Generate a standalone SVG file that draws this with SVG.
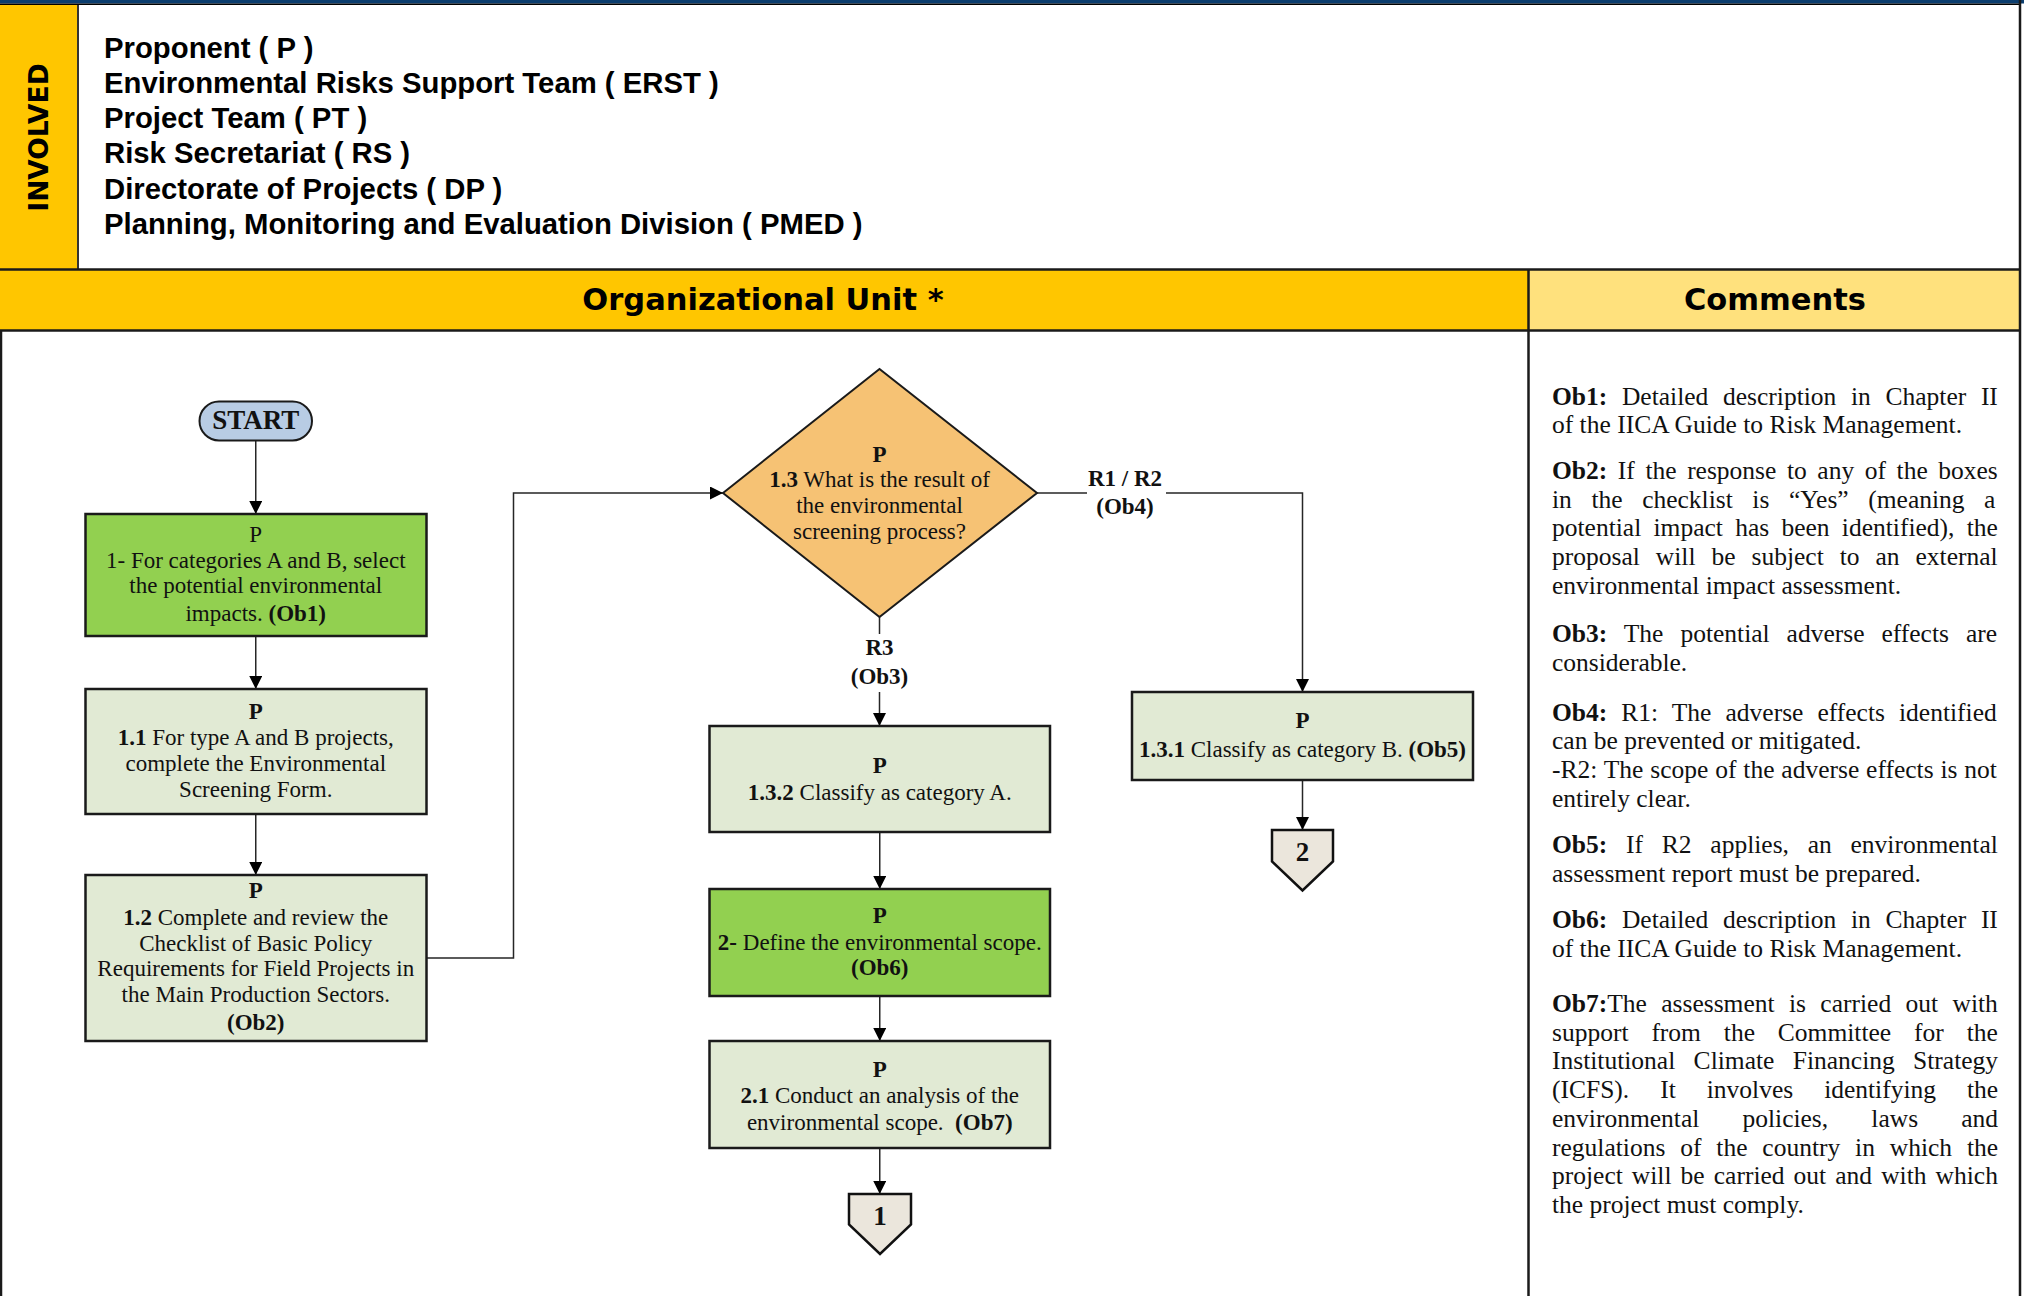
<svg xmlns="http://www.w3.org/2000/svg" width="2024" height="1296" viewBox="0 0 2024 1296">
  <style>
    .frame { stroke: #1a1a1a; stroke-width: 2.5; fill: none; }
    .hdr { font-family: "Liberation Sans", Arial, sans-serif; font-weight: bold; font-size: 29.3px; fill: #000; }
    .band { font-family: "DejaVu Sans", sans-serif; font-weight: bold; font-size: 30.5px; fill: #000; text-anchor: middle; }
    .t { font-family: "Liberation Serif", "Times New Roman", serif; font-size: 23px; fill: #111; text-anchor: middle; }
    .b { font-weight: bold; }
    .lbl { font-family: "Liberation Serif", "Times New Roman", serif; font-size: 23px; font-weight: bold; fill: #111; text-anchor: middle; }
    .num { font-family: "Liberation Serif", "Times New Roman", serif; font-size: 27px; font-weight: bold; fill: #111; text-anchor: middle; }
    .c { font-family: "Liberation Serif", "Times New Roman", serif; font-size: 25.5px; fill: #111; }
    .box { stroke: #1a1a1a; stroke-width: 2.5; }
    .act { fill: #92D050; }
    .task { fill: #E1EAD4; }
    .dec { fill: #F6C274; stroke: #1a1a1a; stroke-width: 2; }
    .off { fill: #EBE6DC; stroke: #111; stroke-width: 2.5; stroke-linejoin: miter; }
    .conn { stroke: #262626; stroke-width: 1.5; fill: none; }
  </style>
  <defs>
    <marker id="arr" viewBox="0 0 13 13" refX="13" refY="6.5" markerWidth="13" markerHeight="13" markerUnits="userSpaceOnUse" orient="auto">
      <path d="M0,0 L13,6.5 L0,13 z" fill="#000"/>
    </marker>
  </defs>

  <rect x="0" y="0" width="2024" height="1296" fill="#fff"/>

  <!-- page frame: header with participants -->
  <g id="header">
    <rect x="0" y="0" width="2024" height="3.5" fill="#0B3D6E"/>
    <line x1="0" y1="4.2" x2="2021" y2="4.2" stroke="#000" stroke-width="1.5"/>
    <rect x="0" y="5" width="78" height="264" fill="#FFC600"/>
    <line x1="78" y1="5" x2="78" y2="269" stroke="#333" stroke-width="2"/>
    <text transform="rotate(-90)" x="-137.5" y="48" font-family="DejaVu Sans, sans-serif" font-weight="bold" font-size="26.5" text-anchor="middle" fill="#000">INVOLVED</text>
    <text class="hdr" x="104" y="58">Proponent ( P )</text>
    <text class="hdr" x="104" y="93">Environmental Risks Support Team ( ERST )</text>
    <text class="hdr" x="104" y="128">Project Team ( PT )</text>
    <text class="hdr" x="104" y="163">Risk Secretariat ( RS )</text>
    <text class="hdr" x="104" y="199">Directorate of Projects ( DP )</text>
    <text class="hdr" x="104" y="234">Planning, Monitoring and Evaluation Division ( PMED )</text>
  </g>

  <!-- column headings -->
  <g id="bands">
    <rect x="0" y="270" width="1528" height="60" fill="#FFC600"/>
    <rect x="1529" y="270" width="491" height="60" fill="#FFE17D"/>
    <text class="band" x="763" y="310">Organizational Unit *</text>
    <text class="band" x="1775" y="310">Comments</text>
  </g>

  <!-- frame lines -->
  <g id="frame" class="frame">
    <line x1="0" y1="269.5" x2="2021" y2="269.5"/>
    <line x1="0" y1="330.5" x2="2021" y2="330.5"/>
    <line x1="1528.5" y1="270" x2="1528.5" y2="1296"/>
    <line x1="2020" y1="0" x2="2020" y2="1296"/>
    <line x1="1" y1="330" x2="1" y2="1296"/>
  </g>

  <!-- connectors -->
  <g id="connectors">
    <path class="conn" d="M255.75,441 V514" marker-end="url(#arr)"/>
    <path class="conn" d="M255.75,636 V689" marker-end="url(#arr)"/>
    <path class="conn" d="M255.75,814 V875" marker-end="url(#arr)"/>
    <path class="conn" d="M426.5,958 H513.5 V493 H723" marker-end="url(#arr)"/>
    <path class="conn" d="M879.5,617 V634"/>
    <path class="conn" d="M879.5,692 V726" marker-end="url(#arr)"/>
    <path class="conn" d="M1037,493 H1087"/>
    <path class="conn" d="M1166,493 H1302.5 V692" marker-end="url(#arr)"/>
    <path class="conn" d="M1302.5,780 V830" marker-end="url(#arr)"/>
    <path class="conn" d="M879.75,832 V889" marker-end="url(#arr)"/>
    <path class="conn" d="M879.75,996 V1041" marker-end="url(#arr)"/>
    <path class="conn" d="M879.75,1148 V1194" marker-end="url(#arr)"/>
    <text class="lbl" x="1125" y="486">R1 / R2</text>
    <text class="lbl" x="1125" y="514">(Ob4)</text>
    <text class="lbl" x="879.5" y="655">R3</text>
    <text class="lbl" x="879.5" y="684">(Ob3)</text>
  </g>

  <!-- flow nodes -->
  <g id="start">
    <rect x="199.5" y="401.5" width="112.5" height="39" rx="19.5" fill="#B8CCE4" stroke="#1a1a1a" stroke-width="2"/>
    <text x="255.75" y="429" font-family="Liberation Serif, serif" font-weight="bold" font-size="27" text-anchor="middle" fill="#111">START</text>
  </g>

  <g id="step1">
    <rect class="box act" x="85.5" y="514" width="341" height="122"/>
    <text class="t" x="255.75" y="541.7">P</text>
    <text class="t" x="255.75" y="567.7">1- For categories A and B, select</text>
    <text class="t" x="255.75" y="593.3">the potential environmental</text>
    <text class="t" x="255.75" y="620.7">impacts. <tspan class="b">(Ob1)</tspan></text>
  </g>

  <g id="step1_1">
    <rect class="box task" x="85.5" y="689" width="341" height="125"/>
    <text class="t b" x="255.75" y="719.3">P</text>
    <text class="t" x="255.75" y="745"><tspan class="b">1.1</tspan> For type A and B projects,</text>
    <text class="t" x="255.75" y="770.7">complete the Environmental</text>
    <text class="t" x="255.75" y="796.7">Screening Form.</text>
  </g>

  <g id="step1_2">
    <rect class="box task" x="85.5" y="875" width="341" height="166"/>
    <text class="t b" x="255.75" y="898">P</text>
    <text class="t" x="255.75" y="925"><tspan class="b">1.2</tspan> Complete and review the</text>
    <text class="t" x="255.75" y="950.5">Checklist of Basic Policy</text>
    <text class="t" x="255.75" y="976">Requirements for Field Projects in</text>
    <text class="t" x="255.75" y="1001.7">the Main Production Sectors.</text>
    <text class="t b" x="255.75" y="1030">(Ob2)</text>
  </g>

  <g id="decision1_3">
    <polygon class="dec" points="723,493 879.5,369 1037,493 879.5,617"/>
    <text class="t b" x="879.5" y="461.7">P</text>
    <text class="t" x="879.5" y="486.7"><tspan class="b">1.3</tspan> What is the result of</text>
    <text class="t" x="879.5" y="512.7">the environmental</text>
    <text class="t" x="879.5" y="539.3">screening process?</text>
  </g>

  <g id="step1_3_2">
    <rect class="box task" x="709.5" y="726" width="340.5" height="106"/>
    <text class="t b" x="879.75" y="773.3">P</text>
    <text class="t" x="879.75" y="800"><tspan class="b">1.3.2</tspan> Classify as category A.</text>
  </g>

  <g id="step1_3_1">
    <rect class="box task" x="1132" y="692" width="341" height="88"/>
    <text class="t b" x="1302.5" y="728.3">P</text>
    <text class="t" x="1302.5" y="756.7"><tspan class="b">1.3.1</tspan> Classify as category B. <tspan class="b">(Ob5)</tspan></text>
  </g>

  <g id="offpage2">
    <polygon class="off" points="1272,830 1333,830 1333,861.5 1302.5,890.5 1272,861.5"/>
    <text class="num" x="1302.5" y="861">2</text>
  </g>

  <g id="step2">
    <rect class="box act" x="709.5" y="889" width="340.5" height="107"/>
    <text class="t b" x="879.75" y="923.3">P</text>
    <text class="t" x="879.75" y="950"><tspan class="b">2-</tspan> Define the environmental scope.</text>
    <text class="t b" x="879.75" y="975">(Ob6)</text>
  </g>

  <g id="step2_1">
    <rect class="box task" x="709.5" y="1041" width="340.5" height="107"/>
    <text class="t b" x="879.75" y="1076.7">P</text>
    <text class="t" x="879.75" y="1103.3"><tspan class="b">2.1</tspan> Conduct an analysis of the</text>
    <text class="t" x="879.75" y="1130" xml:space="preserve">environmental scope.  <tspan class="b">(Ob7)</tspan></text>
  </g>

  <g id="offpage1">
    <polygon class="off" points="849,1194 911,1194 911,1224.5 880,1254 849,1224.5"/>
    <text class="num" x="880" y="1225">1</text>
  </g>

  <!-- comments column, justified by per-line word spacing -->
  <g id="comments" class="c">
    <text x="1552" y="404.6" word-spacing="8.3"><tspan class="b">Ob1:</tspan> Detailed description in Chapter II</text>
    <text x="1552" y="433">of the IICA Guide to Risk Management.</text>

    <text x="1552" y="479" word-spacing="4.2"><tspan class="b">Ob2:</tspan> If the response to any of the boxes</text>
    <text x="1552" y="507.7" word-spacing="13.2">in the checklist is “Yes” (meaning a</text>
    <text x="1552" y="536.4" word-spacing="5.9">potential impact has been identified), the</text>
    <text x="1552" y="565.1" word-spacing="9.6">proposal will be subject to an external</text>
    <text x="1552" y="593.8">environmental impact assessment.</text>

    <text x="1552" y="642" word-spacing="10.6"><tspan class="b">Ob3:</tspan> The potential adverse effects are</text>
    <text x="1552" y="670.7">considerable.</text>

    <text x="1552" y="720.5" word-spacing="7.7"><tspan class="b">Ob4:</tspan> R1: The adverse effects identified</text>
    <text x="1552" y="749.2">can be prevented or mitigated.</text>
    <text x="1552" y="777.9" word-spacing="0.5">-R2: The scope of the adverse effects is not</text>
    <text x="1552" y="806.6">entirely clear.</text>

    <text x="1552" y="853.3" word-spacing="12.4"><tspan class="b">Ob5:</tspan> If R2 applies, an environmental</text>
    <text x="1552" y="881.7">assessment report must be prepared.</text>

    <text x="1552" y="928.3" word-spacing="8.3"><tspan class="b">Ob6:</tspan> Detailed description in Chapter II</text>
    <text x="1552" y="956.7">of the IICA Guide to Risk Management.</text>

    <text x="1552" y="1012" word-spacing="8"><tspan class="b">Ob7:</tspan>The assessment is carried out with</text>
    <text x="1552" y="1040.7" word-spacing="16.5">support from the Committee for the</text>
    <text x="1552" y="1069.4" word-spacing="12">Institutional Climate Financing Strategy</text>
    <text x="1552" y="1098.1" word-spacing="24.6">(ICFS). It involves identifying the</text>
    <text x="1552" y="1126.8" word-spacing="36.8">environmental policies, laws and</text>
    <text x="1552" y="1155.5" word-spacing="8.5">regulations of the country in which the</text>
    <text x="1552" y="1184.2" word-spacing="2.7">project will be carried out and with which</text>
    <text x="1552" y="1212.9">the project must comply.</text>
  </g>
</svg>
